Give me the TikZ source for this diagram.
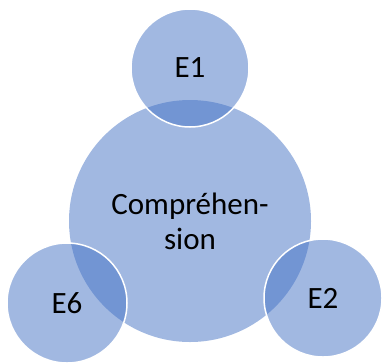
\documentclass[tikz,border=0pt]{standalone}
\usepackage{fontspec}
\setmainfont{Carlito}
\definecolor{accentblue}{HTML}{4472C4}

\begin{document}
\begin{tikzpicture}[x=1pt,y=-1pt,
      hub/.style={circle,inner sep=0pt,fill=accentblue,fill opacity=0.5,text opacity=1,minimum size=242pt,align=center,font=\fontsize{31}{35}\selectfont},
      bubble/.style={circle,inner sep=0pt,fill=accentblue,fill opacity=0.5,text opacity=1,draw=white,line width=1.5pt,minimum size=118pt,font=\fontsize{31}{35}\selectfont}]
      \useasboundingbox (0,0) rectangle (382,362);
      \node[hub] (comp) at (190,221) {Compréhen-\\sion};
      \node[bubble] (e1) at (190,68) {E1};
      \node[bubble] (e2) at (323,298) {E2};
      \node[bubble,minimum size=120pt] (e6) at (67,303) {E6};
\end{tikzpicture}
\end{document}
